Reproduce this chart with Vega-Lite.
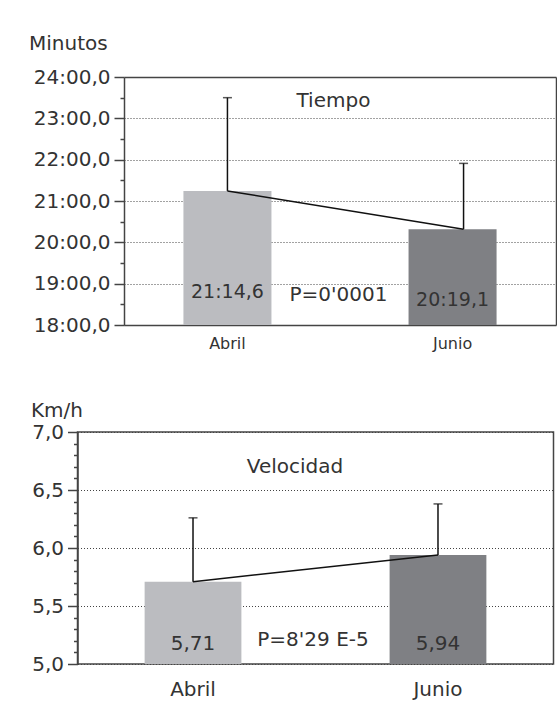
{
  "$schema": "https://vega.github.io/schema/vega-lite/v6.json",
  "padding": {"left": 28.5, "top": 33, "right": 0, "bottom": 0},
  "background": "white",
  "spacing": 48,
  "config": {
    "font": "DejaVu Sans",
    "view": {"stroke": "#444", "strokeWidth": 1.5},
    "axis": {
      "labelFont": "DejaVu Sans", "titleFont": "DejaVu Sans",
      "labelColor": "#333", "titleColor": "#333", "titleFontWeight": "normal",
      "domainColor": "#444", "domainWidth": 1.5,
      "tickColor": "#444", "tickWidth": 1.5,
      "gridColor": "#444", "gridDash": [1, 2], "gridWidth": 1
    }
  },
  "vconcat": [
    {
      "width": 478.5,
      "height": 248,
      "view": {"stroke": null},
      "data": {"values": [
        {"mes": "Abril", "media": 21.2433, "sup": 23.5, "etiqueta": "21:14,6"},
        {"mes": "Junio", "media": 20.3183, "sup": 21.91, "etiqueta": "20:19,1"}
      ]},
      "encoding": {
        "x": {"field": "mes", "type": "nominal",
          "scale": {"range": [46.5, 478.5], "paddingInner": 0.609, "paddingOuter": 0.264, "align": 0.5},
          "axis": {"title": null, "labelAngle": 0, "ticks": false, "domain": true, "labelFontSize": 16, "labelPadding": 10, "grid": false}}
      },
      "resolve": {"axis": {"y": "independent"}},
      "layer": [
        {
          "mark": {"type": "bar"},
          "encoding": {
            "y": {"field": "media", "type": "quantitative",
              "scale": {"domain": [18, 24], "nice": false, "zero": false},
              "axis": {
                "offset": -46.5,
                "title": "Minutos", "titleAngle": 0, "titleAlign": "left", "titleBaseline": "alphabetic",
                "titleX": -95.5, "titleY": -28, "titleFontSize": 20,
                "labelFontSize": 20, "labelOverlap": false, "labelBound": false, "labelFlush": false,
                "tickCount": 100,
                "values": [18, 18.5, 19, 19.5, 20, 20.5, 21, 21.5, 22, 22.5, 23, 23.5, 24],
                "labelExpr": "datum.value % 1 === 0 ? floor(datum.value) + ':00,0' : ''",
                "tickSize": {"condition": {"test": "datum.value % 1 === 0", "value": 10}, "value": 4},
                "labelPadding": 4,
                "grid": true,
                "gridOpacity": {"condition": {"test": "datum.value % 1 === 0", "value": 1}, "value": 0},
                "gridDash": {"condition": {"test": "datum.value === 24", "value": []}, "value": [1, 2]},
                "gridWidth": {"condition": {"test": "datum.value === 24", "value": 1.5}, "value": 1}
              }},
            "y2": {"datum": 18},
            "color": {"field": "mes", "type": "nominal", "scale": {"range": ["#bbbcc0", "#7f8084"]}, "legend": null}
          }
        },
        {
          "mark": {"type": "rule", "color": "#111", "strokeWidth": 1.5, "xOffset": {"expr": "datum.mes === 'Junio' ? 11 : 0"}},
          "encoding": {
            "y": {"field": "media", "type": "quantitative",
              "axis": {"orient": "right", "labels": false, "ticks": false, "grid": false, "domain": true, "title": null}},
            "y2": {"field": "sup"}
          }
        },
        {
          "mark": {"type": "tick", "color": "#111", "thickness": 1.5, "size": 9, "xOffset": {"expr": "datum.mes === 'Junio' ? 11 : 0"}},
          "encoding": {"y": {"field": "sup", "type": "quantitative", "axis": null}}
        },
        {
          "mark": {"type": "line", "color": "#111", "strokeWidth": 1.5, "xOffset": {"expr": "datum.mes === 'Junio' ? 11 : 0"}},
          "encoding": {"y": {"field": "media", "type": "quantitative", "axis": null}}
        },
        {
          "mark": {"type": "text", "fontSize": 19, "color": "#333", "baseline": "alphabetic", "dy": {"expr": "datum.mes === 'Junio' ? 8 : 0"}},
          "encoding": {"y": {"datum": 18.646, "axis": null}, "text": {"field": "etiqueta"}}
        },
        {
          "data": {"values": [{"mes": "Abril", "p": "P=0'0001", "titulo": "Tiempo"}]},
          "layer": [
            {
              "mark": {"type": "text", "fontSize": 20, "color": "#333", "baseline": "alphabetic", "dx": 111},
              "encoding": {"y": {"datum": 18.569, "axis": null}, "text": {"field": "p"}}
            },
            {
              "mark": {"type": "text", "fontSize": 20, "color": "#333", "baseline": "alphabetic", "dx": 106},
              "encoding": {"y": {"datum": 23.27, "axis": null}, "text": {"field": "titulo"}}
            }
          ]
        }
      ]
    },
    {
      "width": 476,
      "height": 232,
      "data": {"values": [
        {"mes": "Abril", "media": 5.71, "sup": 6.26, "etiqueta": "5,71"},
        {"mes": "Junio", "media": 5.94, "sup": 6.38, "etiqueta": "5,94"}
      ]},
      "encoding": {
        "x": {"field": "mes", "type": "nominal",
          "scale": {"paddingInner": 0.605, "paddingOuter": 0.274, "align": 0.5},
          "axis": {"title": null, "labelAngle": 0, "ticks": false, "domain": false, "labelFontSize": 20, "labelPadding": 15, "grid": false}}
      },
      "layer": [
        {
          "mark": {"type": "bar"},
          "encoding": {
            "y": {"field": "media", "type": "quantitative",
              "scale": {"domain": [5, 7], "nice": false, "zero": false},
              "axis": {
                "title": "Km/h", "titleAngle": 0, "titleAlign": "left", "titleBaseline": "alphabetic",
                "titleX": -47, "titleY": -16, "titleFontSize": 20,
                "labelFontSize": 20, "labelOverlap": false, "labelBound": false, "labelFlush": false,
                "tickCount": 100,
                "values": [5, 5.1, 5.2, 5.3, 5.4, 5.5, 5.6, 5.7, 5.8, 5.9, 6, 6.1, 6.2, 6.3, 6.4, 6.5, 6.6, 6.7, 6.8, 6.9, 7],
                "labelExpr": "indexof([5, 5.5, 6, 6.5, 7], datum.value) >= 0 ? replace(format(datum.value, '.1f'), '.', ',') : ''",
                "tickSize": {"condition": {"test": "indexof([5, 5.5, 6, 6.5, 7], datum.value) >= 0", "value": 10}, "value": 4},
                "labelPadding": 4,
                "grid": true,
                "gridOpacity": {"condition": {"test": "indexof([5, 5.5, 6, 6.5, 7], datum.value) >= 0", "value": 1}, "value": 0}
              }},
            "y2": {"datum": 5},
            "color": {"field": "mes", "type": "nominal", "scale": {"range": ["#bbbcc0", "#7f8084"]}, "legend": null}
          }
        },
        {
          "mark": {"type": "rule", "color": "#111", "strokeWidth": 1.5},
          "encoding": {"y": {"field": "media", "type": "quantitative"}, "y2": {"field": "sup"}}
        },
        {
          "mark": {"type": "tick", "color": "#111", "thickness": 1.5, "size": 9},
          "encoding": {"y": {"field": "sup", "type": "quantitative"}}
        },
        {
          "mark": {"type": "line", "color": "#111", "strokeWidth": 1.5},
          "encoding": {"y": {"field": "media", "type": "quantitative"}}
        },
        {
          "mark": {"type": "text", "fontSize": 20, "color": "#333", "baseline": "alphabetic"},
          "encoding": {"y": {"datum": 5.12}, "text": {"field": "etiqueta"}}
        },
        {
          "data": {"values": [{"mes": "Abril", "p": "P=8'29 E-5", "titulo": "Velocidad"}]},
          "layer": [
            {
              "mark": {"type": "text", "fontSize": 20, "color": "#333", "baseline": "alphabetic", "dx": 120},
              "encoding": {"y": {"datum": 5.157}, "text": {"field": "p"}}
            },
            {
              "mark": {"type": "text", "fontSize": 20, "color": "#333", "baseline": "alphabetic", "dx": 102},
              "encoding": {"y": {"datum": 6.649}, "text": {"field": "titulo"}}
            }
          ]
        }
      ]
    }
  ]
}
